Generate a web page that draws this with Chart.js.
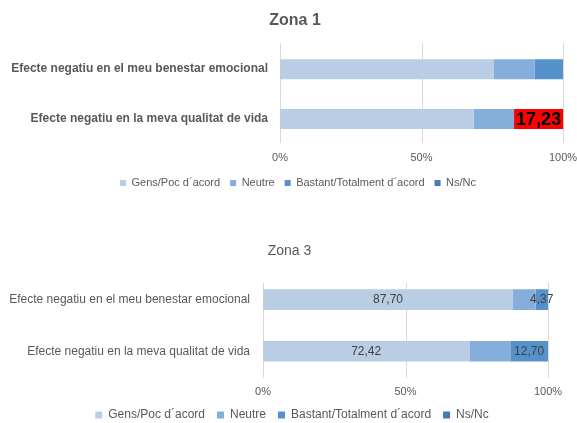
<!DOCTYPE html>
<html>
<head>
<meta charset="utf-8">
<script src="https://cdn.jsdelivr.net/npm/chart.js@4.4.0/dist/chart.umd.min.js"></script>
<style>
  html, body { margin: 0; padding: 0; background: #ffffff; }
  #wrap { position: relative; width: 577px; height: 423px; overflow: hidden; }
  #c1 { position: absolute; left: 0; top: 0; }
  #c2 { position: absolute; left: 0; top: 230px; }
</style>
</head>
<body>
<div id="wrap">
  <canvas id="c1" width="577" height="200"></canvas>
  <canvas id="c2" width="577" height="205"></canvas>
</div>
<script>
// ---- data ----
const categories = ['Efecte negatiu en el meu benestar emocional', 'Efecte negatiu en la meva qualitat de vida'];
const seriesNames = ['Gens/Poc d´acord', 'Neutre', 'Bastant/Totalment d´acord', 'Ns/Nc'];
const seriesColors = ['#B9CDE5', '#86AEDB', '#5592CB', '#4A7AB0'];
const xTickValues = [0, 50, 100];
const xTickLabels = ['0%', '50%', '100%'];

const zona1Title = 'Zona 1';
const zona1Gens = [75.6, 68.5];
const zona1Neutre = [14.3, 14.27];
const zona1Bastant = [10.1, 17.23];
const zona1Ns = [0, 0];
const zona1GensLabels = [null, null];
const zona1NeutreLabels = [null, null];
const zona1BastantLabels = [null, '17,23'];
const zona1NsLabels = [null, null];

const zona3Title = 'Zona 3';
const zona3Gens = [87.70, 72.42];
const zona3Neutre = [7.93, 14.60];
const zona3Bastant = [4.37, 12.70];
const zona3Ns = [0, 0.28];
const zona3GensLabels = ['87,70', '72,42'];
const zona3NeutreLabels = [null, null];
const zona3BastantLabels = ['4,37', '12,70'];
const zona3NsLabels = [null, null];

// ---- plugin for segment labels ----
const segLabels = {
  id: 'segLabels',
  afterDatasetsDraw(chart) {
    const cfg = chart.options.plugins.segLabels;
    if (!cfg) return;
    const ctx = chart.ctx;
    chart.data.datasets.forEach((ds, i) => {
      const labels = cfg.labels[i];
      if (!labels) return;
      const meta = chart.getDatasetMeta(i);
      meta.data.forEach((bar, j) => {
        const t = labels[j];
        if (!t) return;
        const x = (bar.x + bar.base) / 2;
        const y = bar.y;
        ctx.save();
        ctx.font = cfg.font;
        if (cfg.background) {
          const w = ctx.measureText(t).width + 4;
          ctx.fillStyle = cfg.background;
          ctx.fillRect(x - w / 2, y - bar.height / 2, w, bar.height);
        }
        ctx.fillStyle = cfg.color;
        ctx.textAlign = 'center';
        ctx.textBaseline = 'middle';
        ctx.fillText(t, x, y + 0.5);
        ctx.restore();
      });
    });
  }
};

// shift title / legend horizontally (they are centred on the whole figure in the original)
const shiftBoxes = {
  id: 'shiftBoxes',
  afterLayout(chart) {
    const o = chart.options.plugins.shiftBoxes;
    if (!o) return;
    if (chart.legend) { chart.legend.left += o.legend; chart.legend.right += o.legend; }
    if (chart.titleBlock) { chart.titleBlock.left += o.title; chart.titleBlock.right += o.title; }
  }
};

// vertical gridlines drawn at the x scale's ticks over a trimmed vertical range
const trimmedGrid = {
  id: 'trimmedGrid',
  beforeDatasetsDraw(chart) {
    const o = chart.options.plugins.trimmedGrid;
    if (!o) return;
    const xs = chart.scales.x;
    const area = chart.chartArea;
    const ctx = chart.ctx;
    ctx.save();
    ctx.strokeStyle = o.color;
    ctx.lineWidth = 1;
    xs.ticks.forEach(t => {
      const px = Math.round(xs.getPixelForValue(t.value)) + 0.5;
      ctx.beginPath();
      ctx.moveTo(px, area.top + o.top);
      ctx.lineTo(px, area.bottom + o.bottom);
      ctx.stroke();
    });
    ctx.restore();
  }
};

function makeChart(id, o) {
  const datasets = [o.gens, o.neutre, o.bastant, o.ns].map((vals, i) => ({
    label: seriesNames[i],
    data: vals,
    backgroundColor: seriesColors[i],
    borderWidth: 0,
    barPercentage: 0.4,
    categoryPercentage: 1.0
  }));
  return new Chart(document.getElementById(id), {
    type: 'bar',
    data: { labels: categories, datasets },
    plugins: [trimmedGrid, segLabels, shiftBoxes],
    options: {
      indexAxis: 'y',
      responsive: false,
      animation: false,
      layout: { padding: { left: 0, right: o.padRight, top: 0, bottom: o.padBottom } },
      scales: {
        x: {
          stacked: true,
          min: 0, max: 100,
          afterBuildTicks: (s) => { s.ticks = xTickValues.map(v => ({ value: v })); },
          afterFit: (s) => { s.height = o.xHeight; s.paddingLeft = 0; s.paddingRight = 0; },
          ticks: {
            callback: (v) => xTickLabels[xTickValues.indexOf(v)],
            color: '#595959',
            font: { family: 'Liberation Sans, Arial, sans-serif', size: o.tickSize },
            padding: o.tickPad,
            maxRotation: 0
          },
          grid: { display: false, drawTicks: false },
          border: { display: false }
        },
        y: {
          stacked: true,
          afterFit: (s) => { s.width = o.yWidth; },
          ticks: {
            color: '#595959',
            font: { family: 'Liberation Sans, Arial, sans-serif', size: 12, weight: o.catWeight },
            padding: o.catPad
          },
          grid: { display: false, drawTicks: false },
          border: { display: false }
        }
      },
      plugins: {
        title: {
          display: true,
          text: o.title,
          color: '#595959',
          font: { family: 'Liberation Sans, Arial, sans-serif', size: o.titleSize, weight: o.titleWeight },
          padding: { top: o.titleTop, bottom: o.titleBottom }
        },
        legend: {
          position: 'bottom',
          labels: {
            boxWidth: o.box, boxHeight: o.box,
            color: '#595959',
            font: { family: 'Liberation Sans, Arial, sans-serif', size: o.legendSize },
            padding: o.legendPad
          }
        },
        tooltip: { enabled: false },
        segLabels: o.segLabels,
        shiftBoxes: o.shift,
        trimmedGrid: o.grid
      }
    }
  });
}

makeChart('c1', {
  title: zona1Title, titleSize: 16, titleWeight: 'bold', titleTop: 11, titleBottom: 14,
  gens: zona1Gens, neutre: zona1Neutre, bastant: zona1Bastant, ns: zona1Ns,
  padRight: 14, padBottom: 1.5, yWidth: 280, catWeight: 'bold', catPad: 12,
  tickSize: 11, tickPad: 7.5, xHeight: 23.5, legendSize: 11, box: 6, legendPad: 10,
  shift: { legend: 16.5, title: 13.5 },
  grid: { color: '#D9D9D9', top: -1, bottom: -1 },
  segLabels: {
    labels: [zona1GensLabels, zona1NeutreLabels, zona1BastantLabels, zona1NsLabels],
    font: 'bold 18px "Liberation Sans", Arial, sans-serif', color: '#000000', background: '#FF0000'
  }
});

makeChart('c2', {
  title: zona3Title, titleSize: 14, titleWeight: 'normal', titleTop: 13, titleBottom: 14,
  gens: zona3Gens, neutre: zona3Neutre, bastant: zona3Bastant, ns: zona3Ns,
  padRight: 29, padBottom: 4, yWidth: 263, catWeight: 'normal', catPad: 13,
  tickSize: 11, tickPad: 8.4, xHeight: 20, legendSize: 12, box: 7, legendPad: 12,
  shift: { legend: 18, title: 15.5 },
  grid: { color: '#D9D9D9', top: 9, bottom: 1 },
  segLabels: {
    labels: [zona3GensLabels, zona3NeutreLabels, zona3BastantLabels, zona3NsLabels],
    font: '12px "Liberation Sans", Arial, sans-serif', color: '#404040', background: null
  }
});
</script>
</body>
</html>
